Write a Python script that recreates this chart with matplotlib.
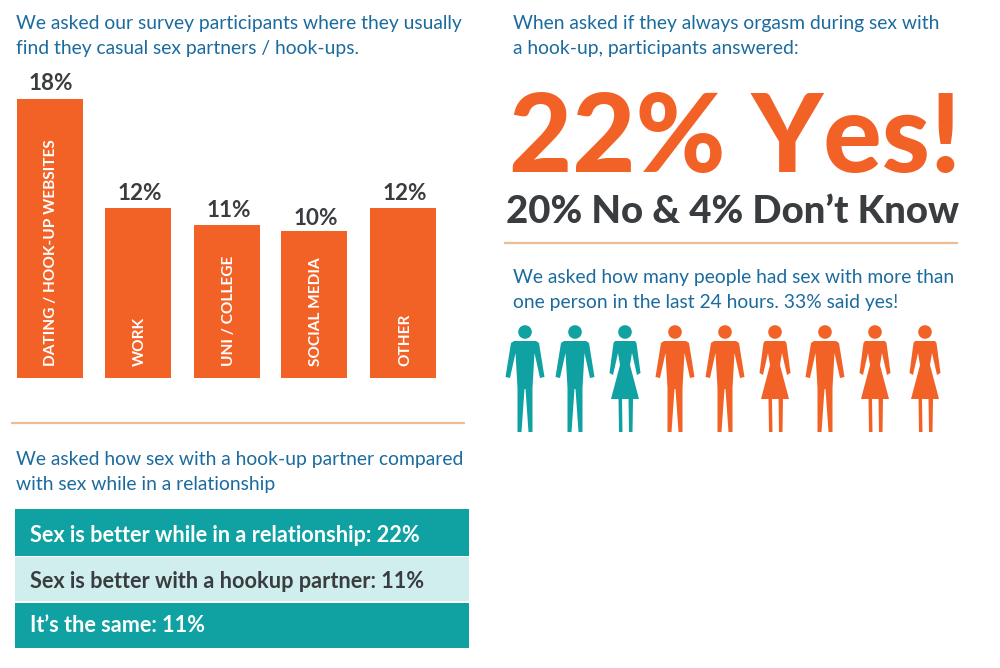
import matplotlib
matplotlib.use("Agg")
import matplotlib.pyplot as plt
from matplotlib.patches import Polygon, Circle, Rectangle

plt.rcParams['font.family'] = ['Lato', 'DejaVu Sans']

# ---- data ----
categories = ["DATING / HOOK-UP WEBSITES", "WORK", "UNI / COLLEGE", "SOCIAL MEDIA", "OTHER"]
pct_labels = ["18%", "12%", "11%", "10%", "12%"]
bar_lengths = [18, 11, 9.9, 9.5, 11]      # drawn length
compare_rows = ["Sex is better while in a relationship: 22%",
                "Sex is better with a hookup partner: 11%",
                "It\u2019s the same: 11%"]
people = ["M", "M", "W", "M", "M", "W", "M", "W", "W"]
yes_people = 3

# ---- style ----
ORANGE = "#f26227"
TEAL = "#10a1a3"
LIGHT = "#d0eeee"
BLUE = "#1b6b9e"
DARK = "#3a3d40"
RULE = "#edbd94"

fig = plt.figure(figsize=(10, 6.68), dpi=100, facecolor="white")
ax = fig.add_axes([0, 0, 1, 1])
ax.set_xlim(0, 1000)
ax.set_ylim(668, 0)
ax.axis("off")

def T(x, y, s, px, color, weight="normal", ha="left", **kw):
    ax.text(x, y, s, fontsize=px * 0.72, color=color, fontweight=weight, ha=ha, va="baseline", **kw)

# headers
HP = 19.25
T(16, 29, "We asked our survey participants where they usually", HP, BLUE)
T(16, 54, "find they casual sex partners / hook-ups.", HP, BLUE)
T(16, 465, "We asked how sex with a hook-up partner compared", HP, BLUE)
T(16, 490, "with sex while in a relationship", HP, BLUE)
T(513, 29, "When asked if they always orgasm during sex with", HP, BLUE)
T(513, 54, "a hook-up, participants answered:", HP, BLUE)
T(513, 283, "We asked how many people had sex with more than", HP, BLUE)
T(513, 308, "one person in the last 24 hours. 33% said yes!", HP, BLUE)

# bar chart
bax = fig.add_axes([0, 1 - 378 / 668, 1, 279 / 668])
bax.set_xlim(0, 1000)
bax.set_ylim(0, 18)
bax.axis("off")
bar_x = [49.5, 138, 227, 314, 403]
label_gap_px = [9, 8, 7.5, 5.5, 8]
bars = bax.bar(bar_x, bar_lengths, width=66, color=ORANGE, linewidth=0)
for b, cat, lab, gap in zip(bars, categories, pct_labels, label_gap_px):
    cx = b.get_x() + b.get_width() / 2
    bax.annotate(lab, (cx + 1.5, b.get_height()), xytext=(0, gap * 0.72), textcoords="offset points",
                 ha="center", va="baseline", fontsize=22.5 * 0.72, color=DARK, fontweight="bold",
                 annotation_clip=False)
    bax.annotate(cat, (cx + 2, 0), xytext=(0, 9), textcoords="offset points", rotation=90,
                 ha="center", va="bottom", fontsize=15.4 * 0.72, color="white", fontweight="bold")

# rules
ax.plot([11, 465], [423, 423], color=RULE, lw=1.6, solid_capstyle="butt")
ax.plot([504, 958], [243, 243], color=RULE, lw=1.6, solid_capstyle="butt")

# comparison rows
row_spans = [(509, 556), (557, 601), (603, 648)]
row_base = [542, 588, 632]
for i, (row, (y0, y1), yb) in enumerate(zip(compare_rows, row_spans, row_base)):
    shade = i % 2 == 1
    ax.add_patch(Rectangle((15, y0), 454, y1 - y0, facecolor=LIGHT if shade else TEAL, linewidth=0))
    T(30, yb, row, 21.7, DARK if shade else "white", weight="bold")

# large statement
T(509, 172, "22% Yes!", 109, ORANGE, weight="black")
T(506, 223, "20% No & 4% Don\u2019t Know", 38.4, DARK, weight="black")

# pictogram
MAN = [(-11, 341), (11, 341), (14, 343), (19.5, 377), (15, 378), (9.5, 353), (7.5, 388), (7.5, 432),
       (3.5, 432), (0.5, 389), (-0.5, 389), (-3.5, 432), (-7.5, 432), (-7.5, 388), (-9.5, 353),
       (-15, 378), (-19.5, 377), (-14, 343)]
WOMAN = [(-10, 341), (10, 341), (11.5, 343), (15.5, 373), (12, 375), (7, 353), (5, 365), (14, 399),
         (8, 399), (7.5, 432), (4, 432), (3.5, 399), (-3, 399), (-2.5, 432), (-6, 432), (-6.5, 399),
         (-14, 399), (-5, 365), (-7, 353), (-12, 375), (-15.5, 373), (-11.5, 343)]
for i, g in enumerate(people):
    cx = 525 + i * 50
    col = TEAL if i < yes_people else ORANGE
    tpl = MAN if g == "M" else WOMAN
    ax.add_patch(Polygon([(cx + dx, y) for dx, y in tpl], closed=True, facecolor=col, linewidth=0))
    ax.add_patch(Circle((cx, 332), 6.8, facecolor=col, linewidth=0))

fig.savefig("out.png", dpi=100, facecolor="white")
